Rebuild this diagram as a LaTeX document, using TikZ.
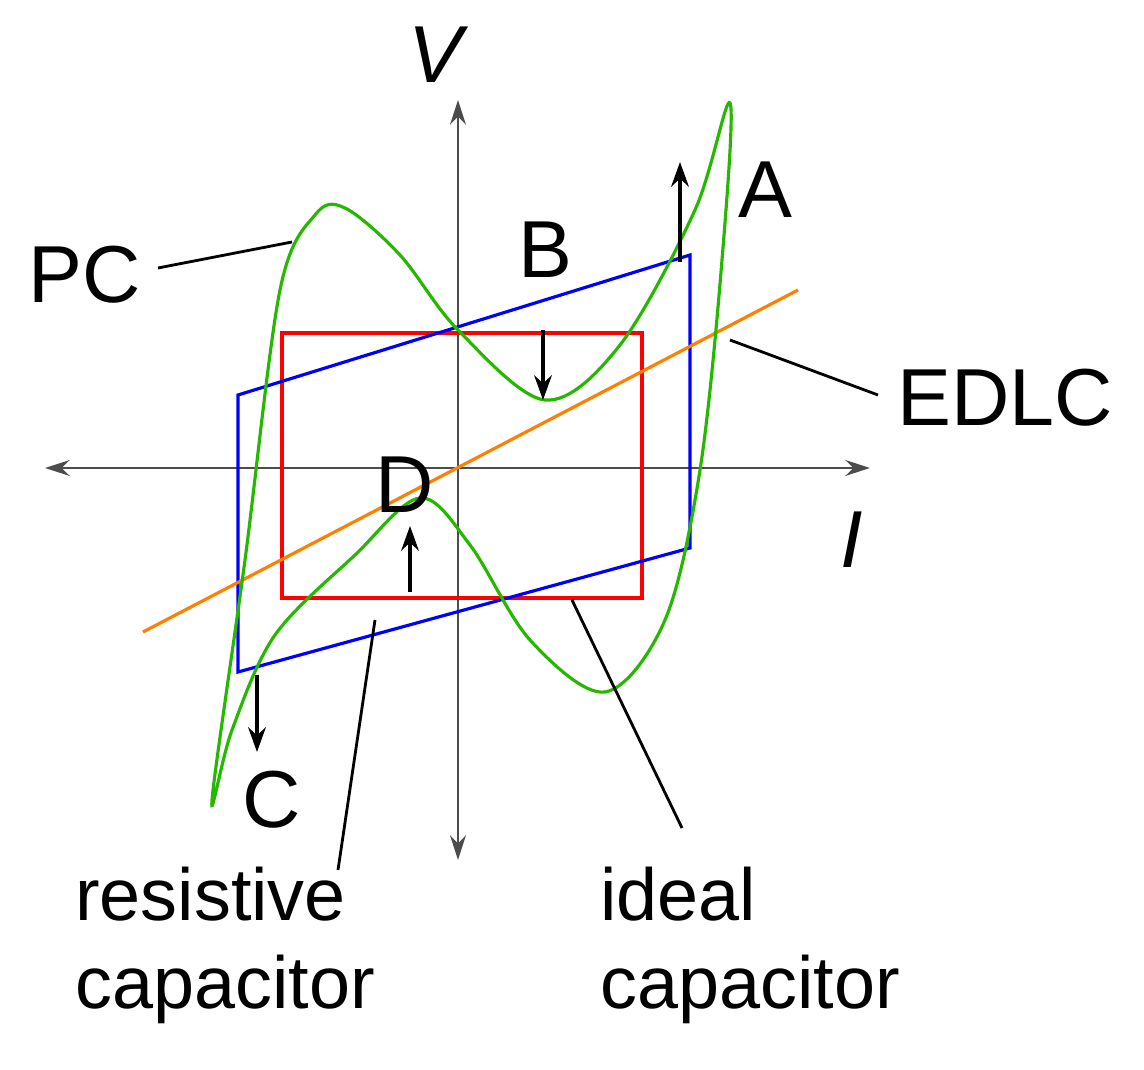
\documentclass[tikz,border=0pt]{standalone}
\usepackage{fontspec}
\setmainfont{Liberation Sans}
\usetikzlibrary{arrows.meta}
\begin{document}
\begin{tikzpicture}[x=0.02cm,y=-0.02cm,
  ax/.style={gray!60!black,line width=1.4pt,{Stealth[length=14pt,width=9pt]}-{Stealth[length=14pt,width=9pt]}},
  arr/.style={black,line width=2.2pt,-{Stealth[length=14pt,width=10pt]}},
  lead/.style={black,line width=1.6pt},
  big/.style={font=\fontsize{46}{48}\selectfont},
  mid/.style={font=\fontsize{42}{50}\selectfont,align=left}]
\useasboundingbox (0,0) rectangle (1144,1070);
\coordinate (xl) at (45,468); \coordinate (xr) at (870,468);
\coordinate (yb) at (458,860); \coordinate (yt) at (458,100);
\draw[ax] (xl) -- (xr);
\draw[ax] (yb) -- (yt);
\node[font=\fontsize{46}{48}\selectfont\itshape] (V) at (435,55) {V};
\node[font=\fontsize{46}{48}\selectfont\itshape] (I) at (852,540) {I};
\draw[red,line width=1.8pt] (282,333) rectangle (642,598);
\draw[blue,line width=1.8pt] (238,395) -- (690,255) -- (690,548) -- (238,672) -- cycle;
\coordinate (o1) at (143,632); \coordinate (o2) at (798,290);
\draw[orange,line width=1.8pt] (o1) -- (o2);
\draw[green!65!black!80!lime,line width=1.8pt] plot[smooth cycle,tension=0.55] coordinates {
 (212,800) (245,560) (280,290) (315,215) (345,208) (400,255) (458,330) (545,400) (620,345) (695,210) (730,103)
 (722,260) (700,470) (665,620) (605,692) (530,640) (470,545) (420,498) (355,555) (275,635) (232,730)};
\coordinate (a1) at (680,262); \coordinate (a2) at (680,162);
\draw[arr] (a1) -- (a2);
\coordinate (b1) at (543,330); \coordinate (b2) at (543,400);
\draw[arr] (b1) -- (b2);
\coordinate (c1) at (257,675); \coordinate (c2) at (257,752);
\draw[arr] (c1) -- (c2);
\coordinate (d1) at (410,592); \coordinate (d2) at (410,526);
\draw[arr] (d1) -- (d2);
\node[big] (A) at (765,190) {A};
\node[big] (B) at (545,250) {B};
\node[big] (C) at (272,800) {C};
\node[big] (D) at (405,485) {D};
\node[big] (PC) at (85,275) {PC};
\node[big] (EDLC) at (1005,398) {EDLC};
\node[mid] (rc) at (225,945) {resistive\\capacitor};
\node[mid] (ic) at (750,945) {ideal\\capacitor};
\coordinate (p1) at (158,268); \coordinate (p2) at (292,242);
\draw[lead] (p1) -- (p2);
\coordinate (e1) at (878,395); \coordinate (e2) at (730,340);
\draw[lead] (e1) -- (e2);
\coordinate (r1) at (338,870); \coordinate (r2) at (375,620);
\draw[lead] (r1) -- (r2);
\coordinate (i1) at (682,828); \coordinate (i2) at (572,600);
\draw[lead] (i1) -- (i2);
\end{tikzpicture}
\end{document}
